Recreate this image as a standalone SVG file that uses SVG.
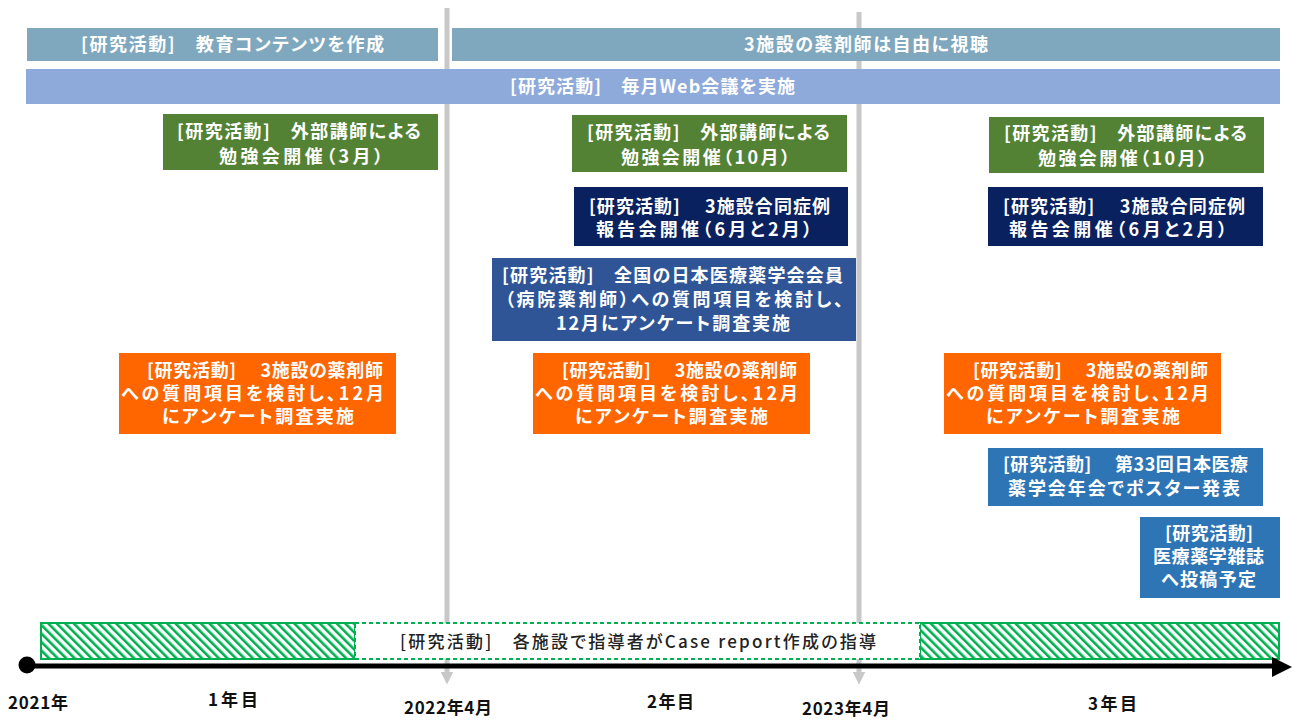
<svg xmlns="http://www.w3.org/2000/svg" width="1293" height="720" viewBox="0 0 1293 720">
<style>
.t{font-family:"Noto Sans CJK JP","Noto Sans CJK SC",sans-serif;font-weight:700;font-size:18px;fill:#fff;font-feature-settings:"palt"}
.h{font-family:"Noto Sans CJK JP","Noto Sans CJK SC",sans-serif;font-weight:500;font-size:17px;fill:#222;font-feature-settings:"palt"}
.a{font-family:"Noto Sans CJK JP","Noto Sans CJK SC",sans-serif;font-weight:700;font-size:17px;fill:#111}
.gl{stroke:#C8C8C8;stroke-width:5;fill:none}
</style>
<defs>
<pattern id="hatch" patternUnits="userSpaceOnUse" width="6" height="6" patternTransform="rotate(-45)">
<rect width="6" height="6" fill="#fff"/>
<rect x="0" y="0" width="2.6" height="6" fill="#00B050"/>
</pattern>
<marker id="garr" viewBox="0 0 10 10" refX="5" refY="5" markerWidth="2.6" markerHeight="2.6" orient="auto" markerUnits="strokeWidth">
<path d="M0,0 L10,5 L0,10 z" fill="#C8C8C8"/>
</marker>
</defs>

<g id="connectors">
<line class="gl" x1="447" y1="8" x2="447" y2="678" marker-end="url(#garr)"/>
<line class="gl" x1="859" y1="12" x2="859" y2="678" marker-end="url(#garr)"/>
</g>

<g id="bar-content">
<rect x="27" y="28" width="411" height="33" fill="#7FA8BE"/>
<text class="t" x="81" y="51" textLength="303" lengthAdjust="spacing">[研究活動]　教育コンテンツを作成</text>
</g>
<g id="bar-view">
<rect x="452" y="28" width="828" height="33" fill="#7FA8BE"/>
<text class="t" x="744" y="51" textLength="244" lengthAdjust="spacing">3施設の薬剤師は自由に視聴</text>
</g>
<g id="bar-web">
<rect x="26" y="69" width="1254" height="35" fill="#8EAADB"/>
<text class="t" x="510" y="93" textLength="285" lengthAdjust="spacing">[研究活動]　毎月Web会議を実施</text>
</g>

<g id="green1">
<rect x="163" y="114" width="275" height="56" fill="#548235"/>
<text class="t" x="177" y="138" textLength="244" lengthAdjust="spacing">[研究活動]　外部講師による</text>
<text class="t" x="219" y="163" textLength="164" lengthAdjust="spacing">勉強会開催（3月）</text>
</g>
<g id="green2">
<rect x="572" y="115" width="275" height="57" fill="#548235"/>
<text class="t" x="587" y="139" textLength="243" lengthAdjust="spacing">[研究活動]　外部講師による</text>
<text class="t" x="621" y="164" textLength="169" lengthAdjust="spacing">勉強会開催（10月）</text>
</g>
<g id="green3">
<rect x="989" y="117" width="275" height="56" fill="#548235"/>
<text class="t" x="1004" y="140" textLength="243" lengthAdjust="spacing">[研究活動]　外部講師による</text>
<text class="t" x="1038" y="165" textLength="169" lengthAdjust="spacing">勉強会開催（10月）</text>
</g>

<g id="navy1">
<rect x="574" y="187" width="274" height="59" fill="#0A2160"/>
<text class="t" x="589" y="213" textLength="241" lengthAdjust="spacing">[研究活動]　 3施設合同症例</text>
<text class="t" x="596" y="236" textLength="216" lengthAdjust="spacing">報告会開催（6月と2月）</text>
</g>
<g id="navy2">
<rect x="988" y="187" width="275" height="59" fill="#0A2160"/>
<text class="t" x="1003" y="213" textLength="242" lengthAdjust="spacing">[研究活動]　 3施設合同症例</text>
<text class="t" x="1009" y="236" textLength="218" lengthAdjust="spacing">報告会開催（6月と2月）</text>
</g>

<g id="survey-national">
<rect x="492" y="258" width="364" height="83" fill="#2F5597"/>
<text class="t" x="502" y="282" textLength="341" lengthAdjust="spacing">[研究活動]　全国の日本医療薬学会会員</text>
<text class="t" x="505" y="306" textLength="338" lengthAdjust="spacing">（病院薬剤師）への質問項目を検討し、</text>
<text class="t" x="556" y="330" textLength="234" lengthAdjust="spacing">12月にアンケート調査実施</text>
</g>

<g id="orange1">
<rect x="119" y="353" width="277" height="81" fill="#FF6600"/>
<text class="t" x="147" y="377" textLength="236" lengthAdjust="spacing">[研究活動]　 3施設の薬剤師</text>
<text class="t" x="121" y="400" textLength="263" lengthAdjust="spacing">への質問項目を検討し、12月</text>
<text class="t" x="162" y="423" textLength="192" lengthAdjust="spacing">にアンケート調査実施</text>
</g>
<g id="orange2">
<rect x="533" y="353" width="277" height="81" fill="#FF6600"/>
<text class="t" x="562" y="377" textLength="235" lengthAdjust="spacing">[研究活動]　 3施設の薬剤師</text>
<text class="t" x="535" y="400" textLength="263" lengthAdjust="spacing">への質問項目を検討し、12月</text>
<text class="t" x="575" y="423" textLength="193" lengthAdjust="spacing">にアンケート調査実施</text>
</g>
<g id="orange3">
<rect x="944" y="353" width="277" height="81" fill="#FF6600"/>
<text class="t" x="973" y="377" textLength="235" lengthAdjust="spacing">[研究活動]　 3施設の薬剤師</text>
<text class="t" x="946" y="400" textLength="263" lengthAdjust="spacing">への質問項目を検討し、12月</text>
<text class="t" x="986" y="423" textLength="194" lengthAdjust="spacing">にアンケート調査実施</text>
</g>

<g id="poster">
<rect x="988" y="448" width="275" height="58" fill="#2E75B6"/>
<text class="t" x="1003" y="471" textLength="245" lengthAdjust="spacing">[研究活動]　 第33回日本医療</text>
<text class="t" x="1008" y="495" textLength="232" lengthAdjust="spacing">薬学会年会でポスター発表</text>
</g>
<g id="journal">
<rect x="1140" y="517" width="140" height="81" fill="#2E75B6"/>
<text class="t" x="1165" y="540" textLength="88" lengthAdjust="spacing">[研究活動]</text>
<text class="t" x="1153" y="563" textLength="111" lengthAdjust="spacing">医療薬学雑誌</text>
<text class="t" x="1161" y="586" textLength="95" lengthAdjust="spacing">へ投稿予定</text>
</g>

<g id="case-report">
<rect x="41" y="623" width="314" height="36" fill="url(#hatch)" stroke="#00B050" stroke-width="2"/>
<rect x="920" y="623" width="359" height="36" fill="url(#hatch)" stroke="#00B050" stroke-width="2"/>
<rect x="355" y="623" width="565" height="36" fill="#fff" stroke="#00B050" stroke-width="2" stroke-dasharray="4,3"/>
<text class="h" x="400" y="648" textLength="476" lengthAdjust="spacing">[研究活動]　各施設で指導者がCase report作成の指導</text>
</g>

<g id="axis">
<line x1="27" y1="666" x2="1274" y2="666" stroke="#000" stroke-width="5"/>
<path d="M1272,657 L1292,667 L1272,677 z" fill="#000"/>
<circle cx="27" cy="665" r="8.5" fill="#000"/>
<text class="a" x="8" y="709" textLength="60" lengthAdjust="spacing">2021年</text>
<text class="a" x="208" y="706" textLength="50" lengthAdjust="spacing">1年目</text>
<text class="a" x="404" y="714" textLength="88" lengthAdjust="spacing">2022年4月</text>
<text class="a" x="647" y="708" textLength="47" lengthAdjust="spacing">2年目</text>
<text class="a" x="802" y="715" textLength="88" lengthAdjust="spacing">2023年4月</text>
<text class="a" x="1088" y="710" textLength="49" lengthAdjust="spacing">3年目</text>
</g>
</svg>
